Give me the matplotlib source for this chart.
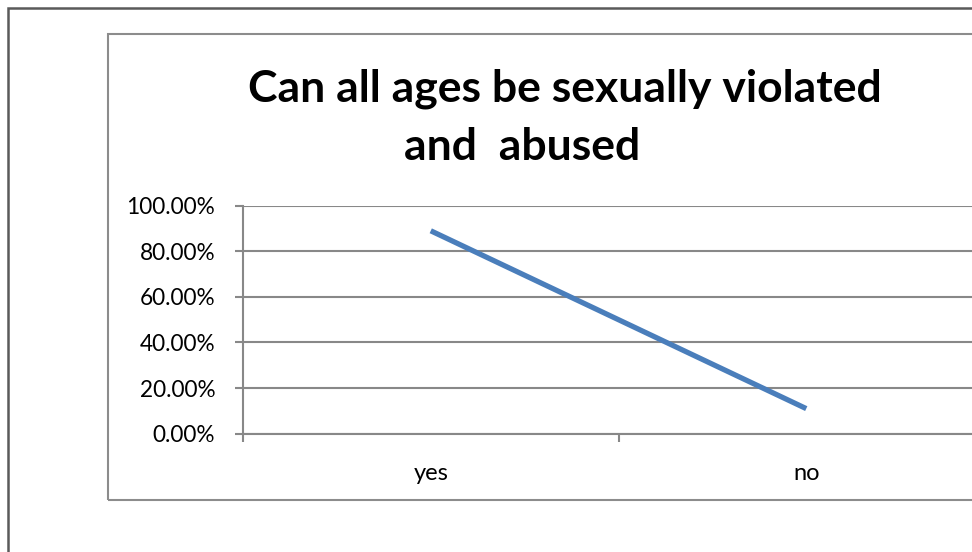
import matplotlib
matplotlib.use("Agg")
import matplotlib.pyplot as plt
from matplotlib.patches import Rectangle
from matplotlib.ticker import FixedLocator, FuncFormatter

categories = ["yes", "no"]
values = [0.89, 0.11]
yticks = [0.0, 0.2, 0.4, 0.6, 0.8, 1.0]
title_lines = ["Can all ages be sexually violated", "and  abused"]

plt.rcParams['font.family'] = ['Lato', 'DejaVu Sans']

W, H = 972, 552
fig = plt.figure(figsize=(W / 100, H / 100), dpi=100)

def fx(px):
    return px / W

def fy(py):
    return 1 - py / H

# outer border
fig.patches.append(Rectangle((fx(8), fy(600)), fx(1100), fy(8) - fy(600),
                             transform=fig.transFigure, fill=False,
                             edgecolor="#5a5a5a", linewidth=1.8))
# chart area border
fig.patches.append(Rectangle((fx(107.5), fy(500)), fx(1000), fy(34) - fy(500),
                             transform=fig.transFigure, fill=False,
                             edgecolor="#8c8c8c", linewidth=1.5))

ax = fig.add_axes([fx(243), fy(433.7), fx(994) - fx(243), fy(205.7) - fy(433.7)])
x = list(range(len(categories)))
ax.plot(x, values, color="#4a7ebb", linewidth=3.8, solid_capstyle="butt")
ax.set_xlim(-0.5, len(categories) - 0.5)
ax.set_ylim(0, 1)

grid_c = "#888888"
ax.set_yticks(yticks)
ax.yaxis.set_major_formatter(FuncFormatter(lambda v, p: f"{v*100:.2f}%"))
ax.yaxis.grid(True, color=grid_c, linewidth=1.5)
ax.set_axisbelow(True)

ax.xaxis.set_major_locator(FixedLocator([i - 0.5 for i in range(len(categories) + 1)]))
ax.xaxis.set_major_formatter(FuncFormatter(lambda v, p: ""))
ax.xaxis.set_minor_locator(FixedLocator(x))
ax.set_xticklabels(categories, minor=True)

for s in ["top", "right"]:
    ax.spines[s].set_visible(False)
ax.spines["left"].set_color(grid_c)
ax.spines["left"].set_linewidth(1.5)
ax.spines["bottom"].set_color(grid_c)
ax.spines["bottom"].set_linewidth(1.5)

ax.tick_params(axis="y", length=6, width=1.5, color=grid_c, pad=14,
               labelsize=16.3, labelcolor="black")
ax.tick_params(axis="x", which="major", length=6, width=1.5, color=grid_c)
ax.tick_params(axis="x", which="minor", length=0, pad=21, labelsize=17,
               labelcolor="black")

fig.text(fx(564.5), fy(102), title_lines[0], ha="center",
         va="baseline", fontsize=32, fontweight="bold", color="black")
fig.text(fx(522.5), fy(160), title_lines[1], ha="center",
         va="baseline", fontsize=32, fontweight="bold", color="black")

fig.savefig("out.png", dpi=100)
